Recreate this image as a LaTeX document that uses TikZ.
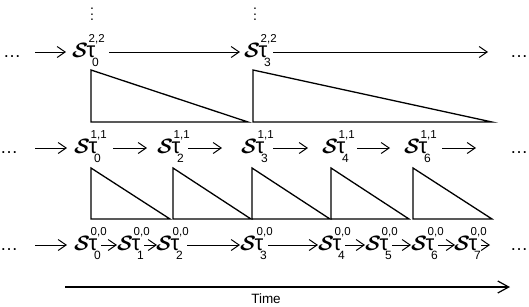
\documentclass[tikz,border=0pt]{standalone}
\usepackage{amsmath}
\usepackage{graphicx}
\usepackage{fontspec}
\setmainfont{Liberation Sans}
\usetikzlibrary{arrows.meta}
% label: S tau with super/subscripts, fixed width 26pt
\newcommand\slab[2]{\makebox[26pt][l]{%
  \rlap{\kern-1pt\fontsize{21.5}{21.5}\selectfont$\boldsymbol{\mathcal{S}}$}%
  \rlap{\kern13.5pt\fontsize{22}{22}\selectfont τ}%
  \rlap{\kern15.5pt\raisebox{15pt}{\fontsize{11.5}{11.5}\selectfont #1}}%
  \rlap{\kern19pt\raisebox{-9.5pt}{\fontsize{12}{12}\selectfont #2}}%
  }}
\newcommand\hdotsx{\fontsize{18}{18}\selectfont\textellipsis}
\newcommand\vdotsx{\fontsize{14}{14}\selectfont\vbox{\baselineskip5.7pt\lineskiplimit0pt\hbox{.}\hbox{.}\hbox{.}}}
\newcommand\conn[4]{\draw[arr,shorten <=#3,shorten >=#4] ([yshift=5pt]#1.base east) -- ([yshift=5pt]#2.base west);}
\begin{document}
\begin{tikzpicture}[x=1pt,y=-1pt,
  lbl/.style={inner sep=0pt,anchor=base west},
  arr/.style={-{Straight Barb[length=8pt,width=11pt]},line width=1pt},
  tri/.style={line width=1.3pt,line join=miter},
  timearr/.style={-{Straight Barb[length=11pt,width=12pt]},line width=1.2pt}]
\fill[white] (0,0) rectangle (529,306);
\useasboundingbox (0,0) rectangle (529,306);
% vertical dots
\node[inner sep=0pt] (vd0) at (92,14.5) {\vdotsx};
\node[inner sep=0pt] (vd3) at (255,14.5) {\vdotsx};
% row 2
\node[lbl] (dl2) at (3,57) {\hdotsx};
\node[lbl] (t0) at (73,57) {\slab{2,2}{0}};
\node[lbl] (t3) at (245,57) {\slab{2,2}{3}};
\node[lbl] (dr2) at (510,57) {\hdotsx};
\conn{dl2}{t0}{14pt}{7pt}
\conn{t0}{t3}{10pt}{5pt}
\conn{t3}{dr2}{2pt}{22pt}
% row 1
\node[lbl] (dl1) at (0,153) {\hdotsx};
\node[lbl] (m0) at (75,153) {\slab{1,1}{0}};
\node[lbl] (m2) at (158,153) {\slab{1,1}{2}};
\node[lbl] (m3) at (242,153) {\slab{1,1}{3}};
\node[lbl] (m4) at (323,153) {\slab{1,1}{4}};
\node[lbl] (m6) at (405,153) {\slab{1,1}{6}};
\node[lbl] (dr1) at (510,153) {\hdotsx};
\conn{dl1}{m0}{17pt}{8pt}
\conn{m0}{m2}{12pt}{11pt}
\conn{m2}{m3}{4pt}{20pt}
\conn{m3}{m4}{5pt}{15pt}
\conn{m4}{m6}{8pt}{15pt}
\conn{m6}{dr1}{11pt}{34pt}
% row 0
\node[lbl] (dl0) at (0,250) {\hdotsx};
\node[lbl] (b0) at (75,250) {\slab{0,0}{0}};
\node[lbl] (b1) at (118,250) {\slab{0,0}{1}};
\node[lbl] (b2) at (157,250) {\slab{0,0}{2}};
\node[lbl] (b3) at (241,250) {\slab{0,0}{3}};
\node[lbl] (b4) at (319,250) {\slab{0,0}{4}};
\node[lbl] (b5) at (366,250) {\slab{0,0}{5}};
\node[lbl] (b6) at (412,250) {\slab{0,0}{6}};
\node[lbl] (b7) at (455,250) {\slab{0,0}{7}};
\node[lbl] (dr0) at (510,250) {\hdotsx};
\conn{dl0}{b0}{17pt}{8pt}
\conn{b0}{b1}{0pt}{1pt}
\conn{b1}{b2}{0pt}{0pt}
\conn{b2}{b3}{4pt}{1pt}
\conn{b3}{b4}{1pt}{1pt}
\conn{b4}{b5}{0pt}{1pt}
\conn{b5}{b6}{0pt}{1pt}
\conn{b6}{b7}{0pt}{0pt}
\conn{b7}{dr0}{0pt}{20pt}
% triangles (level 2)
\draw[tri] (91,70) -- (91,122) -- (248,122) -- cycle;
\draw[tri] (253,70) -- (253,122) -- (492,122) -- cycle;
% triangles (level 1)
\draw[tri] (91,168) -- (91,219) -- (170,219) -- cycle;
\draw[tri] (173,168) -- (173,219) -- (251,219) -- cycle;
\draw[tri] (252,168) -- (252,219) -- (330,219) -- cycle;
\draw[tri] (331,168) -- (331,219) -- (409,219) -- cycle;
\draw[tri] (413,168) -- (413,219) -- (492,219) -- cycle;
% time axis
\coordinate (ts) at (65,287);
\coordinate (te) at (510,287);
\draw[timearr] (ts) -- (te);
\node[inner sep=0pt] (time) at (266,299) {\fontsize{13.5}{13.5}\selectfont Time};
\end{tikzpicture}
\end{document}
